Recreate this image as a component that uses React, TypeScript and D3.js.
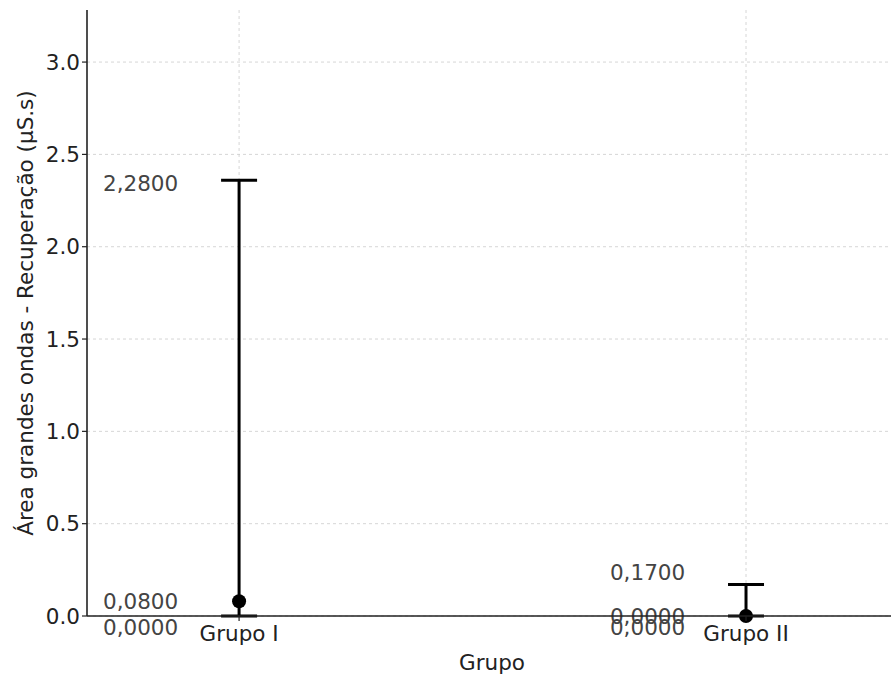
import React from "react";
import * as d3 from "d3";

const categories = ["Grupo I", "Grupo II"];
const means = [0.08, 0.0];
const lowers = [0.0, 0.0];
const uppers = [2.28, 0.17];
const yTicks = [0, 0.5, 1.0, 1.5, 2.0, 2.5, 3.0];

const W = 891;
const H = 680;
const m = { left: 87, top: 10, right: 0, bottom: 64 };
const fmt = (v: number) => v.toFixed(4).replace(".", ",");
const FONT = "DejaVu Sans, sans-serif";
const FS = 21.5;

export default function App() {
  const x = d3.scaleLinear().domain([-0.3, 1.286]).range([m.left, W - m.right]);
  const y = d3.scaleLinear().domain([0, 3.282]).range([H - m.bottom, m.top]);
  const y0 = y(0);

  return (
    <svg width={W} height={H} style={{ position: "absolute", left: 0, top: 0 }}>
      <rect width={W} height={H} fill="#fff" />
      {/* grid */}
      {yTicks.map((t) => (
        <line key={"gy" + t} x1={m.left} x2={W} y1={y(t)} y2={y(t)} stroke="#ccc" strokeDasharray="3,3" strokeWidth={0.8} />
      ))}
      {categories.map((c, i) => (
        <line key={"gx" + c} x1={x(i)} x2={x(i)} y1={m.top} y2={y0} stroke="#ccc" strokeDasharray="3,3" strokeWidth={0.8} />
      ))}
      {/* error bars */}
      {categories.map((c, i) => {
        const cx = x(i);
        const top = y(means[i] + uppers[i]);
        const bot = y(lowers[i]);
        return (
          <g key={"eb" + c}>
            <line x1={cx} x2={cx} y1={top} y2={bot} stroke="#000" strokeWidth={3} />
            <line x1={cx - 18} x2={cx + 18} y1={top} y2={top} stroke="#000" strokeWidth={3} />
            <line x1={cx - 18} x2={cx + 18} y1={bot} y2={bot} stroke="#000" strokeWidth={3} />
            <circle cx={cx} cy={y(means[i])} r={7} fill="#000" />
          </g>
        );
      })}
      {/* annotations */}
      {categories.map((c, i) => {
        const tx = x(i - 0.12);
        return (
          <g key={"an" + c} fontFamily={FONT} fontSize={FS} fill="#444" textAnchor="end">
            <text x={tx} y={y(uppers[i])} dy="-0.2em">{fmt(uppers[i])}</text>
            <text x={tx} y={y(means[i])} dy="0.35em">{fmt(means[i])}</text>
            <text x={tx} y={y(lowers[i])} dy="0.9em">{fmt(lowers[i])}</text>
          </g>
        );
      })}
      {/* spines */}
      <line x1={m.left} x2={m.left} y1={m.top} y2={y0} stroke="#222" strokeWidth={1.6} />
      <line x1={m.left} x2={W} y1={y0} y2={y0} stroke="#222" strokeWidth={1.6} />
      {/* y ticks */}
      {yTicks.map((t) => (
        <g key={"yt" + t}>
          <line x1={m.left - 5} x2={m.left} y1={y(t)} y2={y(t)} stroke="#222" strokeWidth={1.2} />
          <text x={m.left - 7} y={y(t)} dy="0.35em" textAnchor="end" fontFamily={FONT} fontSize={FS} fill="#222">
            {t.toFixed(1)}
          </text>
        </g>
      ))}
      {/* x ticks */}
      {categories.map((c, i) => (
        <g key={"xt" + c}>
          <line x1={x(i)} x2={x(i)} y1={y0} y2={y0 + 5} stroke="#222" strokeWidth={1.2} />
          <text x={x(i)} y={y0 + 7} dy="0.85em" textAnchor="middle" fontFamily={FONT} fontSize={FS} fill="#222">
            {c}
          </text>
        </g>
      ))}
      <text x={492} y={662} dy="0.35em" textAnchor="middle" fontFamily={FONT} fontSize={FS} fill="#222">
        Grupo
      </text>
      <text
        transform={`translate(25,${(m.top + y0) / 2}) rotate(-90)`}
        dy="0.35em"
        textAnchor="middle"
        fontFamily={FONT}
        fontSize={FS}
        fill="#222"
      >
        Área grandes ondas - Recuperação (µS.s)
      </text>
    </svg>
  );
}
